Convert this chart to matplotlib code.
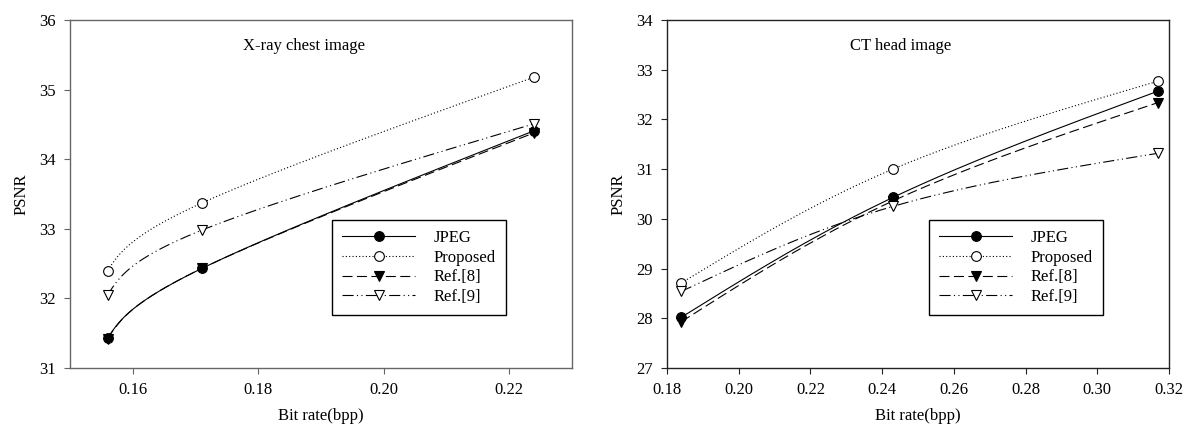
'''two PSNR vs bit rate panels, X-ray chest and CT head'''
import numpy as np
import matplotlib
matplotlib.use('Agg')
import matplotlib.pyplot as plt
from matplotlib.lines import Line2D

plt.rcParams['font.family'] = ['Liberation Serif', 'DejaVu Serif']
plt.rcParams['font.size'] = 12

LABELS = ['JPEG', 'Proposed', 'Ref.[8]', 'Ref.[9]']

# X-ray chest image
XRAY_BPP = [0.156, 0.171, 0.224]
XRAY_JPEG = [31.43, 32.43, 34.41]
XRAY_PROPOSED = [32.40, 33.37, 35.18]
XRAY_REF8 = [31.42, 32.43, 34.38]
XRAY_REF9 = [32.05, 32.98, 34.51]

# CT head image
CT_BPP = [0.184, 0.243, 0.317]
CT_JPEG = [28.02, 30.43, 32.57]
CT_PROPOSED = [28.71, 31.00, 32.77]
CT_REF8 = [27.93, 30.36, 32.34]
CT_REF9 = [28.54, 30.25, 31.32]

STYLES = [
    dict(ls='-', marker='o', mfc='black', mec='black'),
    dict(ls=(0, (1, 2)), marker='o', mfc='white', mec='black'),
    dict(ls=(0, (9, 4)), marker='v', mfc='black', mec='black'),
    dict(ls=(0, (10, 3, 1, 3, 1, 3)), marker='v', mfc='white', mec='black'),
]
LW = 0.8
MS = 7


def spline1d(y, t):
    '''natural cubic spline of y over unit-spaced knots, evaluated at t'''
    y = np.asarray(y, float)
    k = len(y)
    A = np.zeros((k, k))
    b = np.zeros(k)
    A[0, 0] = A[-1, -1] = 1
    for i in range(1, k - 1):
        A[i, i - 1:i + 2] = [1, 4, 1]
        b[i] = 6 * (y[i + 1] - 2 * y[i] + y[i - 1])
    M = np.linalg.solve(A, b)
    i = np.clip(np.floor(t).astype(int), 0, k - 2)
    c = t - i
    a = 1 - c
    return (M[i] * a ** 3 + M[i + 1] * c ** 3) / 6 \
        + (y[i] - M[i] / 6) * a + (y[i + 1] - M[i + 1] / 6) * c


def smooth_curve(x, y):
    '''parametric spline through the points, like the SigmaPlot curves'''
    t = np.linspace(0, len(x) - 1, 200)
    return spline1d(x, t), spline1d(y, t)


def draw(ax, bpp, series, title, xlim, ylim, xticks, yticks, spine_col):
    for vals, st in zip(series, STYLES):
        xs, ys = smooth_curve(bpp, vals)
        ax.plot(xs, ys, color='black', lw=LW, ls=st['ls'])
        ax.plot(bpp, vals, ls='none', marker=st['marker'], ms=MS,
                mfc=st['mfc'], mec=st['mec'], mew=0.8)
    ax.set_xlim(xlim)
    ax.set_ylim(ylim)
    ax.set_xticks(xticks)
    ax.set_xticklabels(['%.2f' % t for t in xticks])
    ax.set_yticks(yticks)
    ax.tick_params(direction='out', length=4, width=0.8, pad=6,
                   color=spine_col)
    for sp in ax.spines.values():
        sp.set_color(spine_col)
        sp.set_linewidth(1.0)
    ax.set_xlabel('Bit rate(bpp)', labelpad=7)
    ax.set_ylabel('PSNR', labelpad=7)
    ax.text(0.466, 0.925, title, transform=ax.transAxes,
            ha='center', va='center')
    handles = [Line2D([], [], color='black', lw=LW, ls=st['ls'],
                      marker=st['marker'], ms=MS, mfc=st['mfc'],
                      mec=st['mec'], mew=0.8) for st in STYLES]
    leg = ax.legend(handles, LABELS, loc='upper left',
                    bbox_to_anchor=(0.522, 0.425), handlelength=4.4,
                    handletextpad=1.1, labelspacing=0.22, borderpad=0.6,
                    borderaxespad=0, fancybox=False, framealpha=1,
                    edgecolor='black')
    leg.get_frame().set_linewidth(1.0)


fig = plt.figure(figsize=(11.88, 4.30), dpi=100)
AX1 = fig.add_axes([0.0589, 0.1442, 0.4226, 0.8093])
AX2 = fig.add_axes([0.5614, 0.1442, 0.4226, 0.8093])

draw(AX1, XRAY_BPP, [XRAY_JPEG, XRAY_PROPOSED, XRAY_REF8, XRAY_REF9],
     'X-ray chest image', (0.15, 0.23), (31, 36),
     [0.16, 0.18, 0.20, 0.22], [31, 32, 33, 34, 35, 36], '#666666')
draw(AX2, CT_BPP, [CT_JPEG, CT_PROPOSED, CT_REF8, CT_REF9],
     'CT head image', (0.18, 0.32), (27, 34),
     [0.18, 0.20, 0.22, 0.24, 0.26, 0.28, 0.30, 0.32],
     [27, 28, 29, 30, 31, 32, 33, 34], '#222222')

fig.savefig('out.png', dpi=100)
